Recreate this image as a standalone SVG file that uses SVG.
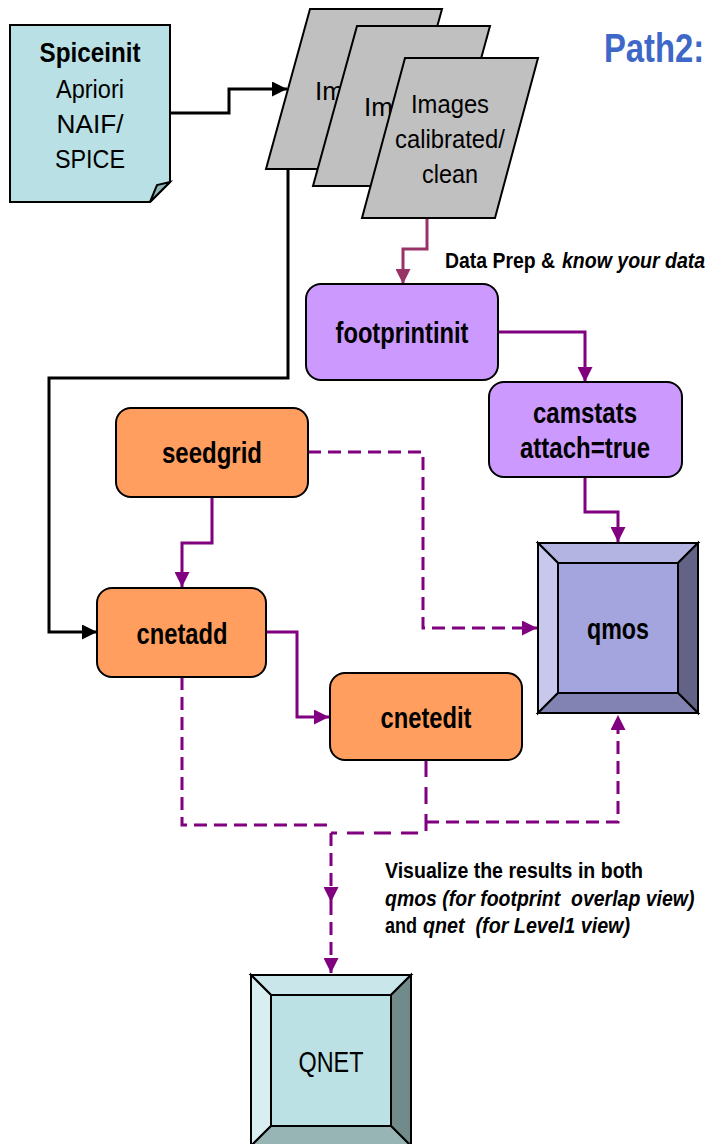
<svg xmlns="http://www.w3.org/2000/svg" width="710" height="1144" viewBox="0 0 710 1144">
  <defs>
    <marker id="arrPurple" viewBox="0 0 10 10" refX="10" refY="5" markerUnits="userSpaceOnUse" markerWidth="15" markerHeight="15" orient="auto">
      <path d="M0,0 L10,5 L0,10 z" fill="#800080"/>
    </marker>
    <marker id="arrMaroon" viewBox="0 0 10 10" refX="10" refY="5" markerUnits="userSpaceOnUse" markerWidth="15" markerHeight="15" orient="auto">
      <path d="M0,0 L10,5 L0,10 z" fill="#993366"/>
    </marker>
    <marker id="arrBlack" viewBox="0 0 10 10" refX="10" refY="5" markerUnits="userSpaceOnUse" markerWidth="15" markerHeight="15" orient="auto">
      <path d="M0,0 L10,5 L0,10 z" fill="#000"/>
    </marker>
  </defs>
  <style>
    .t { font-family: "Liberation Sans", Arial, sans-serif; fill: #000; }
    .b { font-weight: bold; }
    .i { font-style: italic; }
    .reg { font-size: 26px; }
    .nodelbl { font-size: 30px; font-weight: bold; }
    .note { font-size: 22px; font-weight: bold; }
    .data { fill: #C0C0C0; stroke: #000; stroke-width: 2; }
    .proc { stroke: #000; stroke-width: 2; }
    .orange { fill: #FF9E5E; }
    .violet { fill: #CC99FF; }
    .edge { stroke: #000; stroke-width: 2; stroke-linejoin: miter; }
    .conn { fill: none; stroke-width: 3; }
    .purple { stroke: #800080; }
    .maroon { stroke: #993366; }
    .black { stroke: #000; }
    .dash { stroke-dasharray: 13 7; }
    .dash2 { stroke-dasharray: 17 10; }
  </style>

  <rect width="710" height="1144" fill="#fff"/>

  <!-- connectors -->
  <g id="connectors">
    <path class="conn black" d="M170,113 H229 V89 H287" marker-end="url(#arrBlack)"/>
    <path class="conn black" d="M288,169 V378 H49 V632 H97" marker-end="url(#arrBlack)"/>
    <path class="conn maroon" d="M427,218 V249 H403 V284" marker-end="url(#arrMaroon)"/>
    <path class="conn purple" d="M498,332 H585 V382" marker-end="url(#arrPurple)"/>
    <path class="conn purple" d="M585,477 V512 H618 V542" marker-end="url(#arrPurple)"/>
    <path class="conn purple" d="M212,497 V543 H182 V587" marker-end="url(#arrPurple)"/>
    <path class="conn purple" d="M266,632 H297 V717 H329" marker-end="url(#arrPurple)"/>
    <path class="conn purple dash" d="M308,452 H423 V628 H537" marker-end="url(#arrPurple)"/>
    <path class="conn purple dash" d="M182,677 V825 H333"/>
    <path class="conn purple dash" d="M426,822 H618 V715" marker-end="url(#arrPurple)"/>
    <path class="conn purple dash2" d="M426,760 V833 H331"/>
    <path class="conn purple dash" d="M331,833 V902" marker-end="url(#arrPurple)"/>
    <path class="conn purple dash" d="M331,902 V973" marker-end="url(#arrPurple)"/>
  </g>

  <!-- title -->
  <text class="t b" transform="translate(604,62) scale(0.8,1)" font-size="41" style="fill:#3D68C8">Path2:</text>

  <!-- Spiceinit note -->
  <g id="spiceinit">
    <path d="M10,25 H170 V182 L150,202 H10 Z" fill="#B9E0E4" class="edge"/>
    <path d="M150,202 L157,185 L170,182 Z" fill="#8FB6B9" class="edge"/>
    <text class="t b" x="90" y="62" font-size="27" text-anchor="middle" textLength="101" lengthAdjust="spacingAndGlyphs">Spiceinit</text>
    <text class="t reg" x="90" y="98" text-anchor="middle" textLength="68" lengthAdjust="spacingAndGlyphs">Apriori</text>
    <text class="t reg" x="90" y="133" text-anchor="middle" textLength="67" lengthAdjust="spacingAndGlyphs">NAIF/</text>
    <text class="t reg" x="90" y="168" text-anchor="middle" textLength="70" lengthAdjust="spacingAndGlyphs">SPICE</text>
  </g>

  <!-- stacked image sets -->
  <g id="images1">
    <polygon class="data" points="310,9 442,9 398,169 266,169"/>
    <text class="t reg" x="315" y="100">Im</text>
  </g>
  <g id="images2">
    <polygon class="data" points="357,26 490,26 446,186 313,186"/>
    <text class="t reg" x="364" y="116">Im</text>
  </g>
  <g id="images3">
    <polygon class="data" points="405,58 538,58 495,218 362,218"/>
    <text class="t reg" x="450" y="113" text-anchor="middle" textLength="78" lengthAdjust="spacingAndGlyphs">Images</text>
    <text class="t reg" x="450" y="148" text-anchor="middle" textLength="110" lengthAdjust="spacingAndGlyphs">calibrated/</text>
    <text class="t reg" x="450" y="183" text-anchor="middle" textLength="56" lengthAdjust="spacingAndGlyphs">clean</text>
  </g>

  <!-- step note -->
  <text class="t note" x="445" y="268" textLength="110" lengthAdjust="spacingAndGlyphs">Data Prep &amp;</text>
  <text class="t note i" transform="translate(562,268) scale(0.888,1)">know your data</text>

  <g id="footprintinit">
    <rect class="proc violet" x="306" y="284" width="192" height="96" rx="15"/>
    <text class="t nodelbl" x="402" y="343" text-anchor="middle" textLength="133" lengthAdjust="spacingAndGlyphs">footprintinit</text>
  </g>

  <g id="camstats">
    <rect class="proc violet" x="489" y="382" width="193" height="95" rx="15"/>
    <text class="t nodelbl" x="585" y="423" text-anchor="middle" textLength="104" lengthAdjust="spacingAndGlyphs">camstats</text>
    <text class="t nodelbl" x="585" y="458" text-anchor="middle" textLength="130" lengthAdjust="spacingAndGlyphs">attach=true</text>
  </g>

  <g id="seedgrid">
    <rect class="proc orange" x="116" y="408" width="192" height="89" rx="15"/>
    <text class="t nodelbl" x="212" y="463" text-anchor="middle" textLength="100" lengthAdjust="spacingAndGlyphs">seedgrid</text>
  </g>

  <g id="cnetadd">
    <rect class="proc orange" x="97" y="588" width="169" height="89" rx="15"/>
    <text class="t nodelbl" x="182" y="644" text-anchor="middle" textLength="91" lengthAdjust="spacingAndGlyphs">cnetadd</text>
  </g>

  <g id="cnetedit">
    <rect class="proc orange" x="330" y="673" width="192" height="87" rx="15"/>
    <text class="t nodelbl" x="426" y="728" text-anchor="middle" textLength="91" lengthAdjust="spacingAndGlyphs">cnetedit</text>
  </g>

  <!-- qmos bevelled button -->
  <g id="qmos">
    <polygon class="edge" fill="#B4B4E3" points="538,543 698,543 678,563 558,563"/>
    <polygon class="edge" fill="#C8C8EC" points="538,543 558,563 558,693 538,713"/>
    <polygon class="edge" fill="#636388" points="698,543 698,713 678,693 678,563"/>
    <polygon class="edge" fill="#8383B3" points="538,713 558,693 678,693 698,713"/>
    <rect class="edge" fill="#A4A4DE" x="558" y="563" width="120" height="130"/>
    <text class="t nodelbl" x="618" y="639" text-anchor="middle" textLength="62" lengthAdjust="spacingAndGlyphs">qmos</text>
  </g>

  <!-- result note -->
  <text class="t note" x="385" y="878" textLength="258" lengthAdjust="spacingAndGlyphs">Visualize the results in both</text>
  <text class="t note i" transform="translate(385,906) scale(0.886,1)" xml:space="preserve">qmos (for footprint  overlap view)</text>
  <text class="t note" x="385" y="933" textLength="32" lengthAdjust="spacingAndGlyphs">and</text>
  <text class="t note i" x="423" y="933" xml:space="preserve" textLength="207" lengthAdjust="spacingAndGlyphs">qnet  (for Level1 view)</text>

  <!-- QNET bevelled button -->
  <g id="qnet">
    <polygon class="edge" fill="#C9E7EA" points="251,975 411,975 391,995 271,995"/>
    <polygon class="edge" fill="#D9EEF1" points="251,975 271,995 271,1126 251,1146"/>
    <polygon class="edge" fill="#718B8B" points="411,975 411,1146 391,1126 391,995"/>
    <polygon class="edge" fill="#98B5B5" points="251,1146 271,1126 391,1126 411,1146"/>
    <rect class="edge" fill="#BCE1E4" x="271" y="995" width="120" height="131"/>
    <text class="t" x="331" y="1072" font-size="29" text-anchor="middle" textLength="65" lengthAdjust="spacingAndGlyphs">QNET</text>
  </g>
</svg>
